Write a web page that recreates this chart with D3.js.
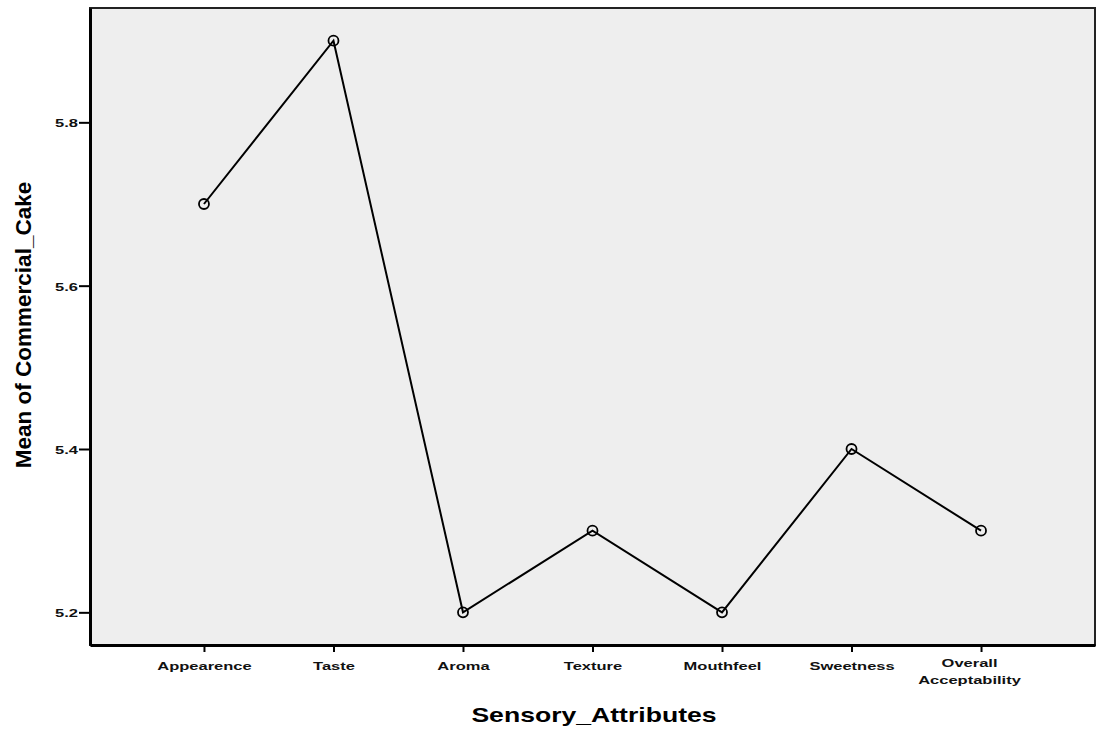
<!DOCTYPE html>
<html>
<head>
<meta charset="utf-8">
<script src="https://cdn.jsdelivr.net/npm/d3@7"></script>
<style>
  body { margin: 0; background: #fff; }
  text { font-family: "Liberation Sans", Arial, sans-serif; }
</style>
</head>
<body>
<div id="chart"></div>
<script>
// Data
var attributes = ["Appearence", "Taste", "Aroma", "Texture", "Mouthfeel", "Sweetness", "Overall Acceptability"];
var meanValues = [5.7, 5.9, 5.2, 5.3, 5.2, 5.4, 5.3];
var yTicks = [5.2, 5.4, 5.6, 5.8];

var width = 1098,
    height = 734;

var margin = ({ top: 8, right: 3, bottom: 89, left: 90 }),
    iwidth = width - margin.left - margin.right,
    iheight = height - margin.top - margin.bottom;

// the source picture is stretched sideways, so the text is too
var stretch = 1.5;

var data = attributes.map(function(a, i) { return { key: a, value: meanValues[i] }; });

var svg = d3.select("#chart")
    .append("svg")
    .attr("width", width)
    .attr("height", height);

var g = svg.append("g")
    .attr("transform", `translate(${margin.left}, ${margin.top})`);

var x = d3.scalePoint()
    .domain(attributes)
    .range([0, iwidth])
    .padding(0.88);

var y = d3.scaleLinear()
    .domain([5.16, 5.94])
    .range([iheight, 0]);

// Plot background and frame
g.append("rect")
    .attr("x", 0).attr("y", 0)
    .attr("width", iwidth).attr("height", iheight)
    .style("fill", "#eeeeee")
    .style("stroke", "#222")
    .style("stroke-width", 2);

// Axes
var yAxis = g.append("g")
    .call(d3.axisLeft(y).tickValues(yTicks).tickSize(11).tickSizeOuter(0).tickFormat(d3.format(".1f")));
yAxis.select(".domain").attr("stroke", "#000").attr("stroke-width", 3);
yAxis.selectAll(".tick line").attr("stroke", "#000").attr("stroke-width", 2);
yAxis.selectAll(".tick text")
    .attr("x", 0)
    .attr("transform", `translate(-12, 1) scale(${stretch}, 1)`)
    .style("font-size", "11px")
    .style("font-weight", "bold")
    .style("fill", "#111");

var xAxis = g.append("g")
    .attr("transform", `translate(0, ${iheight})`)
    .call(d3.axisBottom(x).tickSize(7).tickSizeOuter(0));
xAxis.select(".domain").attr("stroke", "#000").attr("stroke-width", 3);
xAxis.selectAll(".tick line").attr("stroke", "#000").attr("stroke-width", 2);
xAxis.selectAll(".tick text").remove();
xAxis.selectAll(".tick").each(function(d) {
    var words = d === "Overall Acceptability" ? ["Overall", "Acceptability"] : [d];
    var t = d3.select(this).append("text")
        .attr("fill", "#111")
        .attr("text-anchor", "middle")
        .attr("transform", `translate(${words.length > 1 ? -12 : 0}, 0) scale(${stretch}, 1)`)
        .style("font-size", "11px")
        .style("font-weight", "bold");
    words.forEach(function(w, i) {
        t.append("tspan")
            .attr("x", 0)
            .attr("y", words.length > 1 ? 22 + i * 17 : 25)
            .text(w);
    });
});

// Line and markers
var line = d3.line()
    .x(function(d) { return x(d.key); })
    .y(function(d) { return y(d.value); });

g.append("path")
    .datum(data)
    .attr("d", line)
    .style("fill", "none")
    .style("stroke", "#000")
    .style("stroke-width", 2);

g.selectAll("circle")
    .data(data)
    .enter()
    .append("circle")
    .attr("cx", function(d) { return x(d.key); })
    .attr("cy", function(d) { return y(d.value); })
    .attr("r", 5)
    .style("fill", "none")
    .style("stroke", "#000")
    .style("stroke-width", 1.8);

// Axis titles
svg.append("text")
    .attr("transform", "translate(594, 722) scale(1.33, 1)")
    .attr("text-anchor", "middle")
    .style("font-size", "20px")
    .style("font-weight", "bold")
    .text("Sensory_Attributes");

svg.append("text")
    .attr("transform", "translate(31, 325) rotate(-90)")
    .attr("text-anchor", "middle")
    .style("font-size", "22.5px")
    .style("font-weight", "bold")
    .text("Mean of Commercial_Cake");
</script>
</body>
</html>
